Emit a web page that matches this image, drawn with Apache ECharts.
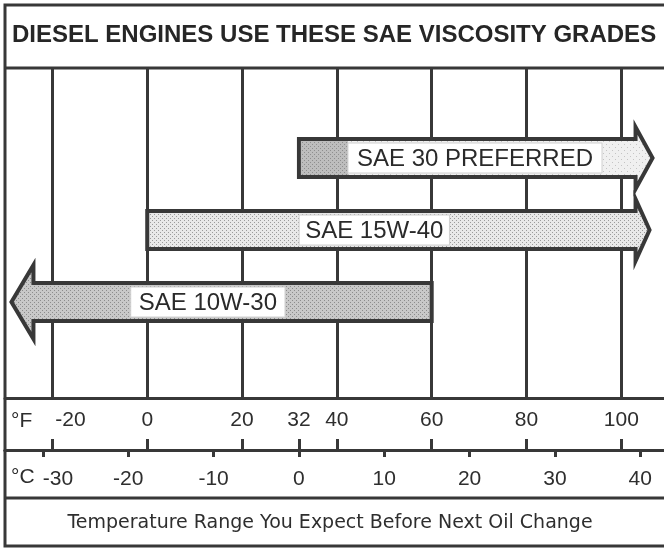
<!DOCTYPE html>
<html><head><meta charset="utf-8">
<script src="https://cdn.jsdelivr.net/npm/echarts@6/dist/echarts.min.js"></script>
<style>html,body{margin:0;padding:0;background:#fff}#c{width:664px;height:549px}</style>
</head><body><div id="c"></div>
<script>
// ---------- data ----------
const titleText = 'DIESEL ENGINES USE THESE SAE VISCOSITY GRADES';
const footerText = 'Temperature Range You Expect Before Next Oil Change';
const grades = ['SAE 10W-30', 'SAE 15W-40', 'SAE 30 PREFERRED'];
const lowF = [-24, 0, 32];      // start of arrow body, °F
const highF = [60, 103, 103];   // end of arrow body, °F
const openLow = [true, false, false];   // arrow continues to colder temps
const openHigh = [false, true, true];   // arrow continues to hotter temps
const gridF = [-20, 0, 20, 40, 60, 80, 100];
const tickF = [-20, 0, 20, 32, 40, 60, 80, 100];
const tickC = [-30, -20, -10, 0, 10, 20, 30, 40];
const F_MIN = -30, F_MAX = 109;
const toC = f => (f - 32) * 5 / 9;

// ---------- style ----------
const INK = '#383838';
const FONT = '"Liberation Sans", Arial, Helvetica, sans-serif';
function stipple(bg, dot, step, size) {
  const c = document.createElement('canvas');
  c.width = step; c.height = step;
  const g = c.getContext('2d');
  g.fillStyle = bg; g.fillRect(0, 0, step, step);
  g.fillStyle = dot;
  g.fillRect(0, 0, size, size);
  g.fillRect(step / 2, step / 2, size, size);
  return { image: c, repeat: 'repeat' };
}
const BAR_STYLE = [
  { fill: stipple('#c8c8c8', '#8c8c8c', 4, 1), hl: 22, hh: 37, pos: 0.438, pad: 8 },
  { fill: stipple('#e8e8e8', '#9a9a9a', 4, 1), hl: 14, hh: 31, pos: 0.465, pad: 6 },
  { fill: stipple('#f0f0f0', '#c4c4c4', 6, 1), hl: 17, hh: 31, pos: 0.523, pad: 9,
    dark: stipple('#bdbdbd', '#8e8e8e', 4, 1) }
];
const LABEL_FONT = '24px ' + FONT;
const mctx = document.createElement('canvas').getContext('2d');
function textW(t, font) { mctx.font = font; return mctx.measureText(t).width; }

function renderBar(params, api) {
  const i = api.value(2);
  const a = api.coord([api.value(0), i]);
  const b = api.coord([api.value(1), i]);
  const x0 = a[0], x1 = b[0], y = a[1];
  const h = 19;
  const st = BAR_STYLE[i];
  const pts = [];
  if (openLow[i]) pts.push([x0, y + h], [x0, y + st.hh], [x0 - st.hl, y], [x0, y - st.hh], [x0, y - h]);
  else pts.push([x0, y + h], [x0, y - h]);
  if (openHigh[i]) pts.push([x1, y - h], [x1, y - st.hh], [x1 + st.hl, y], [x1, y + st.hh], [x1, y + h]);
  else pts.push([x1, y - h], [x1, y + h]);
  const children = [{
    type: 'polygon', shape: { points: pts },
    style: { fill: st.fill, stroke: INK, lineWidth: 4, lineJoin: 'miter' }
  }];
  const tw = textW(grades[i], LABEL_FONT);
  const cx = x0 + st.pos * (x1 - x0);
  const bx = cx - tw / 2 - st.pad, bw = tw + 2 * st.pad;
  if (st.dark) children.push({
    type: 'rect', shape: { x: x0 + 2, y: y - h + 2, width: bx - x0 - 2, height: 2 * h - 4 },
    style: { fill: st.dark }
  });
  children.push({
    type: 'rect', shape: { x: bx, y: y - 15, width: bw, height: 30 },
    style: { fill: '#ffffff', stroke: '#d0d0d0', lineWidth: 1 }
  });
  children.push({
    type: 'text',
    style: { text: grades[i], x: cx, y: y + 1, align: 'center', verticalAlign: 'middle',
             font: LABEL_FONT, fill: '#2a2a2a' }
  });
  return { type: 'group', children };
}

const chart = echarts.init(document.getElementById('c'), null, { renderer: 'canvas' });
const axisBase = { type: 'value', min: F_MIN, max: F_MAX };
const lineStyle = { color: INK, width: 3 };
chart.setOption({
  backgroundColor: '#ffffff',
  animation: false,
  grid: [
    { left: 5, right: 0, top: 68, height: 330 },   // plot frame with vertical lines
    { left: 5, right: 0, top: 122, height: 216 },  // bars
    { left: 5, right: 0, top: 398, height: 52 },   // °F scale
    { left: 5, right: 0, top: 450, height: 48 }    // °C scale
  ],
  xAxis: [
    Object.assign({}, axisBase, {
      gridIndex: 0, position: 'bottom',
      axisLine: { show: true, onZero: false, lineStyle },
      axisTick: { show: false, customValues: gridF },
      axisLabel: { show: false },
      splitLine: { show: true, lineStyle }
    }),
    Object.assign({}, axisBase, { gridIndex: 1, show: false }),
    Object.assign({}, axisBase, {
      gridIndex: 2, position: 'bottom',
      axisLine: { show: true, onZero: false, lineStyle },
      axisTick: { show: true, inside: true, length: 11, customValues: tickF, lineStyle },
      axisLabel: {
        show: true, inside: true, margin: 19, customValues: tickF,
        fontSize: 21, fontFamily: FONT, color: '#2e2e2e',
        formatter: v => v === -20 ? '{s|' + v + '}' : String(v),
        rich: { s: { fontSize: 21, fontFamily: FONT, color: '#2e2e2e', padding: [0, 0, 0, 36] } }
      },
      splitLine: { show: false }
    }),
    {
      type: 'value', gridIndex: 3, position: 'top', min: toC(F_MIN), max: toC(F_MAX),
      axisLine: { show: true, onZero: false, lineStyle },
      axisTick: { show: true, inside: true, length: 7, customValues: tickC, lineStyle },
      axisLabel: {
        show: true, inside: true, margin: 19, customValues: tickC,
        fontSize: 21, fontFamily: FONT, color: '#2e2e2e',
        formatter: v => v === -30 ? '{s|' + v + '}' : String(v),
        rich: { s: { fontSize: 21, fontFamily: FONT, color: '#2e2e2e', padding: [0, 0, 0, 30] } }
      },
      splitLine: { show: false }
    }
  ],
  yAxis: [
    { type: 'value', gridIndex: 0, show: false },
    { type: 'category', gridIndex: 1, data: grades, show: false },
    { type: 'value', gridIndex: 2, show: false },
    { type: 'value', gridIndex: 3, show: false }
  ],
  series: [{
    type: 'custom', xAxisIndex: 1, yAxisIndex: 1,
    renderItem: renderBar,
    encode: { x: [0, 1], y: 2 },
    data: grades.map((g, i) => [lowF[i], highF[i], i]),
    z: 5
  }],
  graphic: [
    { type: 'rect', shape: { x: 5, y: 5, width: 700, height: 541 }, style: { fill: 'none', stroke: INK, lineWidth: 3 }, z: 10 },
    { type: 'line', shape: { x1: 5, y1: 68, x2: 664, y2: 68 }, style: { stroke: INK, lineWidth: 3 }, z: 10 },
    { type: 'line', shape: { x1: 5, y1: 498, x2: 664, y2: 498 }, style: { stroke: INK, lineWidth: 3 }, z: 10 },
    { type: 'text', x: 12, y: 35, style: { text: titleText, font: 'bold 24px ' + FONT, fill: '#262626', verticalAlign: 'middle' }, z: 10 },
    { type: 'text', x: 330, y: 523, style: { text: footerText, font: '19px "DejaVu Sans", ' + FONT, fill: '#2e2e2e', align: 'center', verticalAlign: 'middle' }, z: 10 },
    { type: 'text', x: 11, y: 421, style: { text: '°F', font: '21px ' + FONT, fill: '#2e2e2e', verticalAlign: 'middle' }, z: 10 },
    { type: 'text', x: 11, y: 477, style: { text: '°C', font: '21px ' + FONT, fill: '#2e2e2e', verticalAlign: 'middle' }, z: 10 }
  ]
});
</script>
</body></html>
